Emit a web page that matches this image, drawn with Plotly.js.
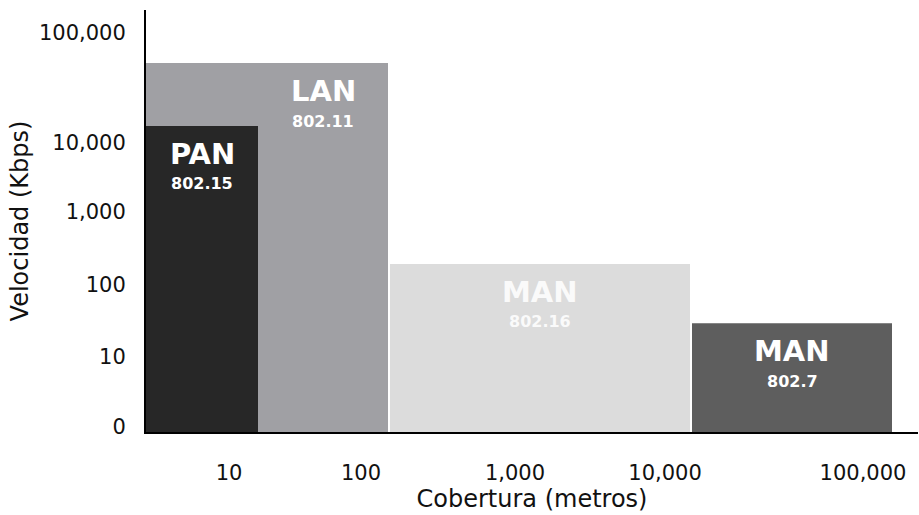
<!DOCTYPE html>
<html>
<head>
<meta charset="utf-8">
<script src="https://cdn.plot.ly/plotly-3.0.1.min.js"></script>
<style>html,body{margin:0;padding:0;background:#fff;}#chart{width:919px;height:515px;}</style>
</head>
<body>
<div id="chart"></div>
<script>
// Network types drawn in order (later ones on top)
const networks = ['LAN', 'PAN', 'MAN', 'MAN'];
const standards = ['802.11', '802.15', '802.16', '802.7'];
// Coverage extent on the diagram's (decade-like) x scale
const coverageStart = [0, 0, 2.44, 5.46];
const coverageEnd = [2.42, 1.12, 5.44, 7.46];
// Speed level on the diagram's (decade-like) y scale
const speedLevel = [5.16, 4.28, 2.35, 1.52];
// Axis ticks
const xTickPos = [0.83, 2.15, 3.69, 5.19, 7.17];
const xTickText = ['10', '100', '1,000', '10,000', '100,000'];
const yTickPos = [0.07, 1.05, 2.06, 3.08, 4.04, 5.58];
const yTickText = ['0', '10', '100', '1,000', '10,000', '100,000'];

const barColors = ['#a0a0a4', '#272727', '#dcdcdc', '#5e5e5e'];
const textColors = ['#ffffff', '#ffffff', '#fafafa', '#ffffff'];

const centers = coverageStart.map((s, i) => (s + coverageEnd[i]) / 2);
const widths = coverageStart.map((s, i) => coverageEnd[i] - s);

// visible part of each bar (a later bar sharing the same start hides the left part)
const labelX = coverageStart.map((s, i) => {
  let start = s;
  coverageStart.forEach((s2, j) => {
    if (j > i && s2 === s && coverageEnd[j] < coverageEnd[i]) start = Math.max(start, coverageEnd[j]);
  });
  return (start + coverageEnd[i]) / 2;
});

const annotations = [];
networks.forEach((n, i) => {
  annotations.push({
    x: labelX[i], y: speedLevel[i], xref: 'x', yref: 'y',
    text: '<b>' + n + '</b>', showarrow: false, yanchor: 'middle', yshift: -28,
    font: {family: 'DejaVu Sans, Verdana, sans-serif', size: 29, color: textColors[i]}
  });
  annotations.push({
    x: labelX[i], y: speedLevel[i], xref: 'x', yref: 'y',
    text: '<b>' + standards[i] + '</b>', showarrow: false, yanchor: 'middle', yshift: -58,
    font: {family: 'DejaVu Sans, Verdana, sans-serif', size: 16, color: textColors[i]}
  });
});

const trace = {
  type: 'bar',
  x: centers,
  y: speedLevel,
  width: widths,
  base: 0,
  marker: {color: barColors, line: {width: 0}},
  hoverinfo: 'skip',
  showlegend: false
};

const layout = {
  width: 919,
  height: 515,
  margin: {l: 146, r: 1, t: 10, b: 83, pad: 0},
  paper_bgcolor: '#ffffff',
  plot_bgcolor: '#ffffff',
  barmode: 'overlay',
  font: {family: 'DejaVu Sans, Verdana, sans-serif', color: '#111111'},
  xaxis: {
    range: [0, 7.72],
    tickvals: xTickPos,
    ticktext: xTickText,
    tickfont: {size: 21, color: '#111111'},
    ticks: '',
    ticklabelstandoff: 21,
    showgrid: false,
    zeroline: false,
    showline: true,
    linecolor: '#000000',
    linewidth: 2,
    fixedrange: true,
    title: {text: 'Cobertura (metros)', font: {size: 24, color: '#111111'}, standoff: 5}
  },
  yaxis: {
    range: [0, 5.902],
    tickvals: yTickPos,
    ticktext: yTickText,
    tickfont: {size: 21, color: '#111111'},
    ticks: '',
    ticklabelstandoff: 14,
    showgrid: false,
    zeroline: false,
    showline: true,
    linecolor: '#000000',
    linewidth: 2,
    fixedrange: true,
    title: {text: 'Velocidad (Kbps)', font: {size: 24, color: '#111111'}, standoff: 4}
  },
  annotations: annotations
};

Plotly.newPlot('chart', [trace], layout, {displayModeBar: false, staticPlot: true});
</script>
</body>
</html>
